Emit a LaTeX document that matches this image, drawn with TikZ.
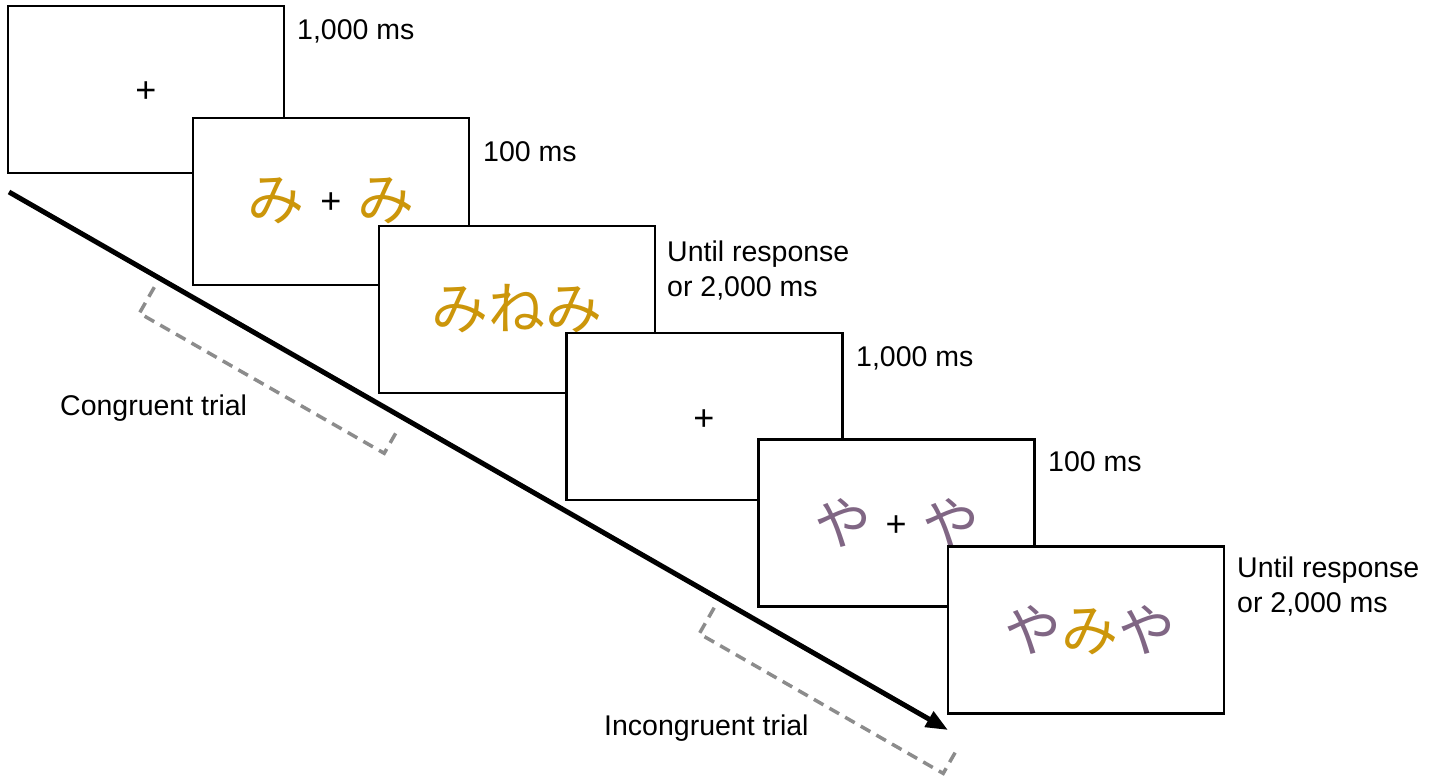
\documentclass[tikz,border=0pt]{standalone}
\usepackage{fontspec}
\setmainfont{Liberation Sans}
\newfontfamily\jpfont{Noto Sans CJK JP}
\usetikzlibrary{arrows.meta}
\definecolor{kanagold}{RGB}{204,150,10}
\definecolor{kanapurple}{RGB}{128,102,132}
\definecolor{bracketgray}{RGB}{140,140,140}

\begin{document}
\begin{tikzpicture}[x=1pt,y=-1pt,
  screen/.style={draw=black, line width=2.4pt, fill=white,
    minimum width=276pt, minimum height=167pt, inner sep=0pt},
  dur/.style={font=\fontsize{28.5}{35}\selectfont, inner sep=0pt, align=left},
  fixcross/.style={font=\fontsize{36}{36}\selectfont, inner sep=0pt},
  kana/.style={font=\jpfont\fontsize{57}{57}\selectfont, inner sep=0pt},
  trialbracket/.style={draw=bracketgray, line width=3.5pt,
    dash pattern=on 11pt off 7pt, line join=miter},
  timeline/.style={line width=5pt, -{Triangle[length=22pt,width=17pt]}}
]
\useasboundingbox (0,0) rectangle (1439,776);

% time axis
\coordinate (tstart) at (9,192);
\coordinate (tend) at (948,730);
\draw[timeline] (tstart) -- (tend);

% screens, each drawn over the previous one
\node[screen] (s1) at (146,89.5) {};
\node[fixcross] (p1) at (146,92) {+};

\node[screen] (s2) at (331,201.5) {};
\node[kana, text=kanagold] (k2a) at (276,201) {み};
\node[fixcross] (p2) at (331,203) {+};
\node[kana, text=kanagold] (k2b) at (386,201) {み};

\node[screen] (s3) at (517,309.5) {};
\node[kana, text=kanagold] (k3) at (517,309) {みねみ};

\node[screen] (s4) at (704.5,416.5) {};
\node[fixcross] (p4) at (704,420) {+};

\node[screen] (s5) at (896.5,523) {};
\node[kana, text=kanapurple] (k5a) at (843,523) {や};
\node[fixcross] (p5) at (896,526) {+};
\node[kana, text=kanapurple] (k5b) at (951,523) {や};

\node[screen] (s6) at (1086,630) {};
\node[kana] (k6) at (1090,630)
  {{\color{kanapurple}や}{\color{kanagold}み}{\color{kanapurple}や}};

% durations
\node[dur, anchor=base west] (d1) at (297,40) {1,000 ms};
\node[dur, anchor=base west] (d2) at (483,161) {100 ms};
\node[dur, anchor=north west] (d3) at (667,241) {Until response\\or 2,000 ms};
\node[dur, anchor=base west] (d4) at (856,366) {1,000 ms};
\node[dur, anchor=base west] (d5) at (1048,471) {100 ms};
\node[dur, anchor=north west] (d6) at (1237,557) {Until response\\or 2,000 ms};

% trial brackets
\coordinate (cb1) at (154.3,287.2);
\coordinate (cb2) at (139.4,313.2);
\coordinate (cb3) at (384.2,453.3);
\coordinate (cb4) at (399.1,427.3);
\draw[trialbracket] (cb1) -- (cb2) -- (cb3) -- (cb4);

\coordinate (ib1) at (714.2,607.7);
\coordinate (ib2) at (699.3,633.7);
\coordinate (ib3) at (943.2,773.4);
\coordinate (ib4) at (958.1,747.4);
\draw[trialbracket] (ib1) -- (ib2) -- (ib3) -- (ib4);

\node[dur, anchor=base west] (lc) at (60,415) {Congruent trial};
\node[dur, anchor=base west] (li) at (604,735) {Incongruent trial};
\end{tikzpicture}
\end{document}
